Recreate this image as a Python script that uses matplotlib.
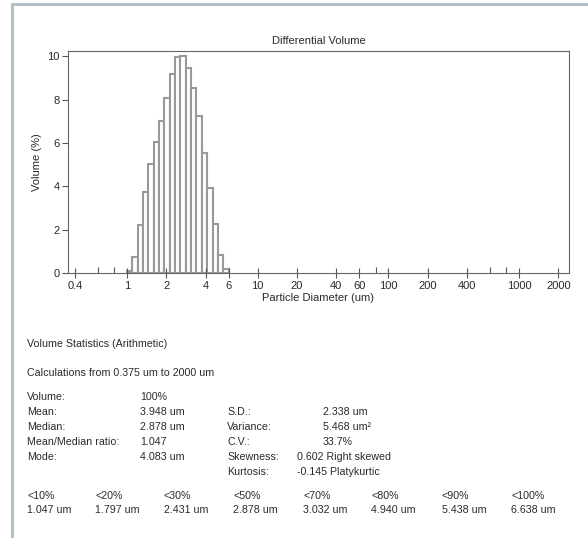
import matplotlib
matplotlib.use('Agg')
import matplotlib.pyplot as plt
from matplotlib.lines import Line2D

plt.rcParams['font.family'] = ['Liberation Sans', 'DejaVu Sans']

# bin edges (um) and volume (%)
bin_edges = [1.000, 1.099, 1.208, 1.327, 1.459, 1.603, 1.762, 1.936, 2.128, 2.338,
             2.570, 2.824, 3.104, 3.411, 3.749, 4.120, 4.528, 4.976, 5.469, 6.010]
volume = [0.07, 0.75, 2.23, 3.73, 5.04, 6.05, 7.02, 8.08, 9.21, 9.96,
          10.0, 9.47, 8.55, 7.23, 5.55, 3.92, 2.27, 0.84, 0.17]

major_ticks = [0.4, 1, 2, 4, 6, 10, 20, 40, 60, 100, 200, 400, 1000, 2000]
minor_ticks = [0.6, 0.8, 80, 600, 800]

stats_left = [("Volume:", "100%"), ("Mean:", "3.948 um"), ("Median:", "2.878 um"),
              ("Mean/Median ratio:", "1.047"), ("Mode:", "4.083 um")]
stats_right = [("S.D.:", "2.338 um"), ("Variance:", "5.468 um\u00b2"), ("C.V.:", "33.7%"),
               ("Skewness:", "0.602 Right skewed"), ("Kurtosis:", "-0.145 Platykurtic")]
pct_labels = ["<10%", "<20%", "<30%", "<50%", "<70%", "<80%", "<90%", "<100%"]
pct_values = ["1.047 um", "1.797 um", "2.431 um", "2.878 um",
              "3.032 um", "4.940 um", "5.438 um", "6.638 um"]

W, H = 588, 538
fig = plt.figure(figsize=(W / 100, H / 100), dpi=100)
fig.patch.set_facecolor('white')

def fx(px):
    return px / W

def fy(py):
    return 1 - py / H

txt = '#2a2a2a'
fs = 8.0      # chart texts
fs_body = 7.7  # statistics block

# page border (top and left)
fig.add_artist(Line2D([fx(12), fx(12)], [fy(4), 0], color='#b4c0c9', lw=2.2))
fig.add_artist(Line2D([fx(12), 1], [fy(4), fy(4)], color='#b4c0c9', lw=2.2))

ax = fig.add_axes([fx(68), fy(273), fx(569) - fx(68), fy(51) - fy(273)])
widths = [b - a for a, b in zip(bin_edges[:-1], bin_edges[1:])]
ax.bar(bin_edges[:-1], volume, width=widths, align='edge',
       facecolor='white', edgecolor='#999999', linewidth=1.5)

ax.set_xscale('log')
ax.set_xlim(0.355, 2410)
ax.set_ylim(0, 10.25)
ax.set_xticks(major_ticks)
ax.set_xticklabels([str(t) for t in major_ticks])
ax.set_xticks(minor_ticks, minor=True)
ax.set_xticklabels([], minor=True)
ax.set_yticks([0, 2, 4, 6, 8, 10])
ax.tick_params(axis='x', which='major', direction='inout', length=7, width=0.8,
               color='#555555', labelsize=fs, labelcolor=txt, pad=2)
ax.tick_params(axis='x', which='minor', direction='in', length=4, width=0.8, color='#555555')
ax.tick_params(axis='y', direction='out', length=4, width=0.8,
               color='#555555', labelsize=fs, labelcolor=txt, pad=2)
for s in ax.spines.values():
    s.set_color('#666666')
    s.set_linewidth(0.8)

ax.set_title("Differential Volume", fontsize=fs, color=txt, pad=5)
ax.set_xlabel("Particle Diameter (um)", fontsize=fs, color=txt, labelpad=2)
ax.set_ylabel("Volume (%)", fontsize=fs, color=txt, labelpad=4)

fig.text(fx(27), fy(344), "Volume Statistics (Arithmetic)", fontsize=fs_body, color=txt, va='center')
fig.text(fx(27), fy(373), "Calculations from 0.375 um to 2000 um", fontsize=fs_body, color=txt, va='center')

row_y = [397, 412, 427, 442, 457]
for (lab, val), y in zip(stats_left, row_y):
    fig.text(fx(27), fy(y), lab, fontsize=fs_body, color=txt, va='center')
    fig.text(fx(140), fy(y), val, fontsize=fs_body, color=txt, va='center')

row_y2 = [412, 427, 442, 457, 472]
val_x = [323, 323, 323, 297, 297]
for (lab, val), y, vx in zip(stats_right, row_y2, val_x):
    fig.text(fx(227), fy(y), lab, fontsize=fs_body, color=txt, va='center')
    fig.text(fx(vx), fy(y), val, fontsize=fs_body, color=txt, va='center')

col_x = [27, 95, 164, 233, 303, 371, 442, 511]
for lab, val, x in zip(pct_labels, pct_values, col_x):
    fig.text(fx(x), fy(496), lab, fontsize=fs_body, color=txt, va='center')
    fig.text(fx(x), fy(510), val, fontsize=fs_body, color=txt, va='center')

fig.savefig('out.png', dpi=100, facecolor='white')
